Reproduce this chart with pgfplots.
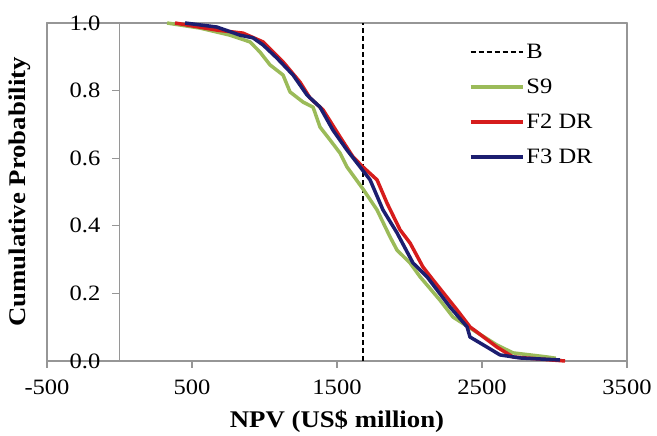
\documentclass[border=0pt]{standalone}
\usepackage{fontspec}
\setmainfont{Liberation Serif}[FakeStretch=1.12]
\usepackage{pgfplots}
\pgfplotsset{compat=1.18}

\definecolor{sgreen}{RGB}{155,187,89}
\definecolor{fred}{RGB}{214,28,28}
\definecolor{fblue}{RGB}{28,30,112}
\definecolor{framegray}{RGB}{150,150,150}

\begin{document}
\begin{tikzpicture}
\begin{axis}[
    scale only axis,
    width=580bp, height=338bp,
    xmin=-500, xmax=3500,
    ymin=0, ymax=1,
    clip=false,
    xtick={-500,500,1500,2500,3500},
    ytick=\empty,
    /pgf/number format/assume math mode=true,
    xticklabel style={yshift=-8bp, /pgf/number format/fixed, /pgf/number format/1000 sep={}},
    tick label style={font=\fontsize{22}{26}\selectfont},
    x tick style={framegray, line width=1.2bp},
    tick align=outside,
    major tick length=7bp,
    xtick pos=bottom,
    axis line style={framegray, line width=1.2bp},
    xlabel={\textbf{NPV (US\$ million)}},
    ylabel={\textbf{Cumulative Probability}},
    xlabel style={yshift=-9bp, font=\fontsize{24}{27}\selectfont},
    every axis y label/.style={at={(rel axis cs:0,0.5)}, rotate=90, anchor=south,
      inner sep=0pt, yshift=16bp, font=\fontsize{24}{27}\selectfont},
    legend style={draw=none, fill=none, at={(0.722,0.95)}, anchor=north west,
      font=\fontsize{22}{26}\selectfont, row sep=15bp},
    legend cell align=left,
    legend image code/.code={\draw[#1] (0bp,0bp) -- (52bp,0bp);},
    line join=round,
]
% page margins as in the original
\path ([shift={(-47bp,-74bp)}]rel axis cs:0,0) rectangle ([shift={(30bp,23bp)}]rel axis cs:1,1);
% frame and y axis at x=0, as in the original
\draw[framegray, line width=1.2bp] (rel axis cs:0,0) rectangle (rel axis cs:1,1);
\addplot[framegray, line width=1.2bp, forget plot] coordinates {(0,0) (0,1)};
\pgfplotsinvokeforeach{0.0,0.2,0.4,0.6,0.8,1.0}{
  \draw[framegray, line width=1.2bp] (axis cs:0,#1) -- ([xshift=-7bp]axis cs:0,#1);
  \node[anchor=east, inner sep=0pt, xshift=-19bp, font=\fontsize{22}{26}\selectfont]
    at (axis cs:0,#1) {#1};
}

\addplot[black, line width=1.8bp, dash pattern=on 5bp off 3bp] coordinates {(1680,0) (1680,1)};
\addlegendentry{B}

% S9
\addplot[sgreen, line width=3.5bp] coordinates {
  (328,1.0) (555,0.985) (762,0.964) (900,0.944) (969,0.914) (1038,0.876)
  (1128,0.846) (1176,0.796) (1266,0.766) (1335,0.751) (1383,0.692)
  (1452,0.654) (1521,0.615) (1569,0.574) (1679,0.509) (1776,0.447)
  (1866,0.367) (1914,0.328) (2004,0.290) (2073,0.249) (2210,0.180)
  (2300,0.130) (2438,0.092) (2604,0.047) (2714,0.024) (2948,0.012) (3010,0.008)
};
\addlegendentry{S9}

% F2 DR
\addplot[fred, line width=3.5bp] coordinates {
  (383,1.0) (672,0.979) (852,0.970) (990,0.944) (1128,0.885) (1245,0.825)
  (1314,0.778) (1404,0.743) (1521,0.663) (1610,0.604) (1679,0.574)
  (1776,0.536) (1845,0.467) (1935,0.388) (2004,0.349) (2093,0.278)
  (2162,0.240) (2328,0.151) (2417,0.101) (2604,0.041) (2714,0.012) (3073,0.0)
};
\addlegendentry{F2 DR}

% F3 DR
\addplot[fblue, line width=3.5bp] coordinates {
  (452,1.0) (672,0.988) (831,0.964) (921,0.956) (990,0.935) (1086,0.896)
  (1197,0.846) (1293,0.787) (1383,0.751) (1472,0.683) (1569,0.624)
  (1638,0.586) (1728,0.536) (1817,0.447) (1914,0.379) (2024,0.290)
  (2121,0.249) (2279,0.160) (2397,0.101) (2417,0.071) (2535,0.041)
  (2624,0.018) (2762,0.009) (3038,0.003)
};
\addlegendentry{F3 DR}
\end{axis}
\end{tikzpicture}
\end{document}
